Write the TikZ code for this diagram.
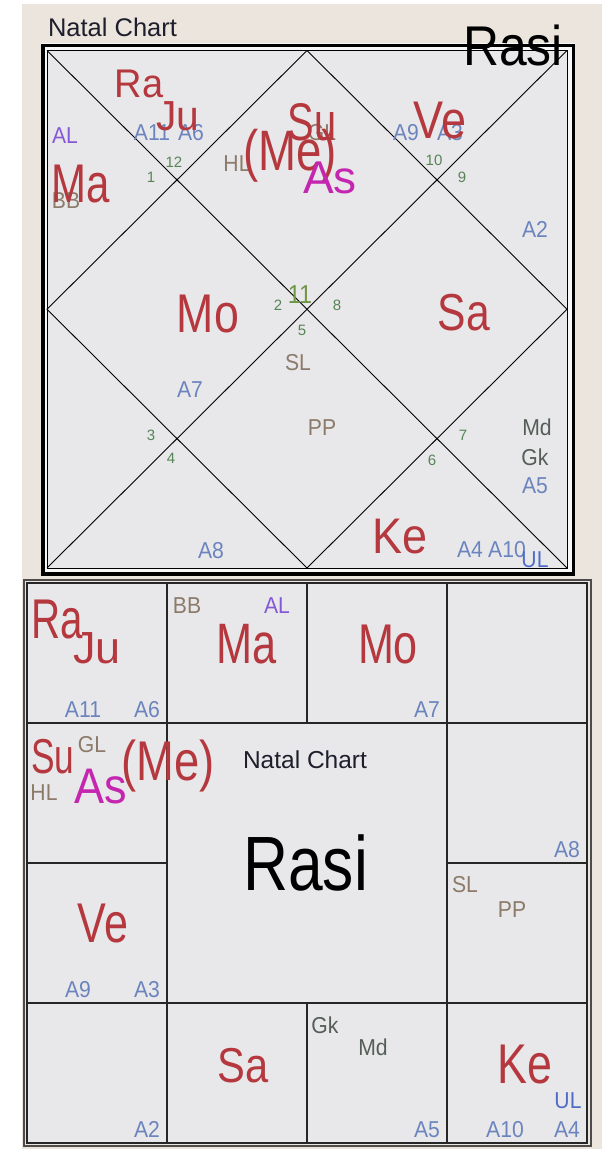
\documentclass[tikz,border=0pt]{standalone}
\usepackage{fontspec}
\setmainfont{Liberation Sans}
\definecolor{bgc}{RGB}{236,229,221}
\definecolor{chartbg}{RGB}{232,232,234}
\definecolor{pred}{RGB}{180,56,62}
\definecolor{pmag}{RGB}{196,38,176}
\definecolor{ablue}{RGB}{108,132,190}
\definecolor{ulblue}{RGB}{80,108,200}
\definecolor{alpur}{RGB}{132,88,214}
\definecolor{brn}{RGB}{140,122,106}
\definecolor{dgr}{RGB}{84,94,86}
\definecolor{hnum}{RGB}{86,132,86}
\definecolor{elev}{RGB}{112,150,72}
\definecolor{ttlc}{RGB}{30,30,44}
\begin{document}
\begin{tikzpicture}[x=1pt,y=-1pt,
  txt/.style={inner sep=0pt, anchor=base},
  pl/.style 2 args={txt, text=pred, font=\fontsize{#1}{#1}\selectfont, xscale=#2},
  sm/.style={txt, font=\fontsize{23}{23}\selectfont, xscale=0.92},
  hn/.style={txt, text=hnum, font=\fontsize{15}{15}\selectfont},
  ttl/.style={txt, text=ttlc},
  gridline/.style={line width=1.2pt, black!85},
  diag/.style={line width=0.9pt, black}]
\useasboundingbox (0,0) rectangle (613,1149);
\fill[white] (0,0) rectangle (613,1149);
\fill[bgc] (22,4) rectangle (602,1149);

% ---------- top (North Indian) chart ----------
\fill[white!94!gray] (41,43) rectangle (575,576);
\fill[chartbg] (47,50.5) rectangle (567,568);
\draw[line width=3.5pt] (43,45.5) rectangle (573.5,574);
\draw[line width=1pt] (47,50.5) rectangle (567,568);
\coordinate (TL) at (47,50.5);
\coordinate (TR) at (567,50.5);
\coordinate (BL) at (47,568);
\coordinate (BR) at (567,568);
\coordinate (TM) at (307,50.5);
\coordinate (BM) at (307,568);
\coordinate (LM) at (47,309.25);
\coordinate (RM) at (567,309.25);
\draw[diag] (TL) -- (BR);
\draw[diag] (TR) -- (BL);
\draw[diag] (TM) -- (RM) -- (BM) -- (LM) -- cycle;

% ---------- bottom (South Indian) chart ----------
\fill[chartbg] (27,583) rectangle (587,1143);
\draw[line width=2pt, black!70] (24,580) rectangle (591,1146);
\draw[line width=1.2pt, black!85] (27,583) rectangle (587,1143);
\draw[gridline] (167,583) -- (167,1143);
\draw[gridline] (447,583) -- (447,1143);
\draw[gridline] (307,583) -- (307,723);
\draw[gridline] (307,1003) -- (307,1143);
\draw[gridline] (27,723) -- (587,723);
\draw[gridline] (27,1003) -- (587,1003);
\draw[gridline] (27,863) -- (167,863);
\draw[gridline] (447,863) -- (587,863);

% ---------- top chart texts ----------
\node[ttl, font=\fontsize{25.5}{26}\selectfont] (tTitle) at (112.5,36) {Natal Chart};
\node[sm, text=ablue] (tA11) at (152,140) {A11};
\node[sm, text=ablue] (tA6) at (191,140) {A6};
\node[sm, text=alpur] (tAL) at (65,143) {AL};
\node[sm, text=brn] (tBB) at (66,208) {BB};
\node[hn] (h12) at (174,167) {12};
\node[hn] (h1) at (151,182) {1};
\node[sm, text=brn] (tHL) at (237,171) {HL};
\node[sm, text=brn] (tGL) at (322,140) {GL};
\node[sm, text=ablue] (tA9) at (406,140) {A9};
\node[sm, text=ablue] (tA3) at (450,140) {A3};
\node[hn] (h10) at (434,165) {10};
\node[hn] (h9) at (462,182) {9};
\node[sm, text=ablue] (tA2) at (535,237) {A2};
\node[txt, text=elev, font=\fontsize{26}{26}\selectfont, xscale=0.9] (h11) at (300,303) {11};
\node[hn] (h2) at (278,310) {2};
\node[hn] (h8) at (337,310) {8};
\node[hn] (h5) at (302,335) {5};
\node[sm, text=brn] (tSL) at (298,370) {SL};
\node[sm, text=ablue] (tA7) at (190,397) {A7};
\node[hn] (h3) at (151,440) {3};
\node[hn] (h4) at (171,463) {4};
\node[sm, text=brn] (tPP) at (322,435) {PP};
\node[hn] (h7) at (463,440) {7};
\node[hn] (h6) at (432,465) {6};
\node[sm, text=dgr] (tMd) at (537,435) {Md};
\node[sm, text=dgr] (tGk) at (535,465) {Gk};
\node[sm, text=ablue] (tA5) at (535,493) {A5};
\node[sm, text=ablue] (tA8) at (211,558) {A8};
\node[sm, text=ablue] (tA4) at (470,557) {A4};
\node[sm, text=ablue] (tA10) at (507,557) {A10};
\node[sm, text=ulblue] (tUL) at (535,567) {UL};

\node[pl={40}{0.95}] (tRa) at (139,97) {Ra};
\node[pl={42}{0.97}] (tJu) at (178,130) {Ju};
\node[pl={54.5}{0.77}] (tMa) at (81,202) {Ma};
\node[pl={53}{0.75}] (tSu) at (312,140) {Su};
\node[pl={57}{0.8}] (tMe) at (290,170) {(Me)};
\node[pl={46}{1.0}, text=pmag] (tAs) at (330,193) {As};
\node[pl={53}{0.85}] (tVe) at (440,138) {Ve};
\node[pl={54.5}{0.82}] (tMo) at (208,332) {Mo};
\node[pl={52}{0.82}] (tSa) at (464,330) {Sa};
\node[pl={50}{0.9}] (tKe) at (400,553) {Ke};
\node[txt, font=\fontsize{56}{56}\selectfont, xscale=0.89] (tRasi) at (513,65) {Rasi};

% ---------- bottom chart texts ----------
\node[sm, text=ablue] (bA11) at (83,717) {A11};
\node[sm, text=ablue] (bA6) at (147,717) {A6};
\node[sm, text=brn] (bBB) at (187,613) {BB};
\node[sm, text=alpur] (bAL) at (277,613) {AL};
\node[sm, text=ablue] (bA7) at (427,717) {A7};
\node[sm, text=brn] (bGL) at (92,752) {GL};
\node[sm, text=brn] (bHL) at (44,800) {HL};
\node[sm, text=ablue] (bA8) at (567,857) {A8};
\node[sm, text=ablue] (bA9) at (78,997) {A9};
\node[sm, text=ablue] (bA3) at (147,997) {A3};
\node[sm, text=brn] (bSL) at (465,892) {SL};
\node[sm, text=brn] (bPP) at (512,917) {PP};
\node[sm, text=ablue] (bA2) at (147,1137) {A2};
\node[sm, text=dgr] (bGk) at (325,1033) {Gk};
\node[sm, text=dgr] (bMd) at (373,1055) {Md};
\node[sm, text=ablue] (bA5) at (427,1137) {A5};
\node[sm, text=ulblue] (bUL) at (568,1108) {UL};
\node[sm, text=ablue] (bA10) at (505,1137) {A10};
\node[sm, text=ablue] (bA4) at (567,1137) {A4};

\node[pl={56}{0.72}] (bRa) at (57,638) {Ra};
\node[pl={45}{1.0}] (bJu) at (97,663) {Ju};
\node[pl={57}{0.76}] (bMa) at (247,663) {Ma};
\node[pl={56}{0.77}] (bMo) at (388,663) {Mo};
\node[pl={49}{0.72}] (bSu) at (53,773) {Su};
\node[pl={56}{0.81}] (bMe) at (168,780) {(Me)};
\node[pl={50}{0.9}, text=pmag] (bAs) at (101,803) {As};
\node[pl={56}{0.77}] (bVe) at (103,942) {Ve};
\node[pl={49}{0.85}] (bSa) at (243,1082) {Sa};
\node[pl={56}{0.8}] (bKe) at (525,1083) {Ke};
\node[ttl, font=\fontsize{24.5}{25}\selectfont] (bTitle) at (305,768) {Natal Chart};
\node[txt, font=\fontsize{77}{77}\selectfont, xscale=0.81] (bRasi) at (305.5,890) {Rasi};
\end{tikzpicture}
\end{document}
